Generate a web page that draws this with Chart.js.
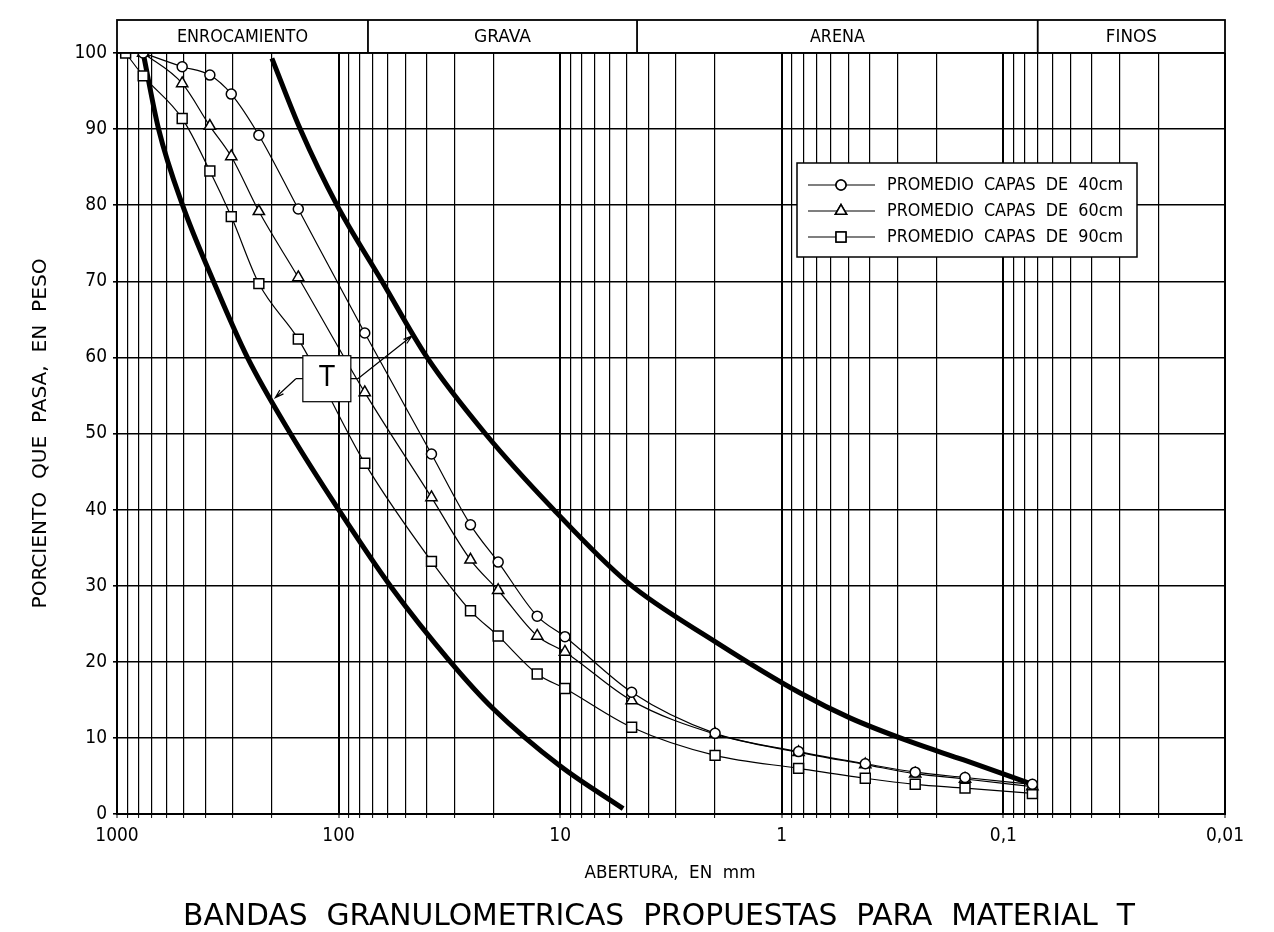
<!DOCTYPE html>
<html>
<head>
<meta charset="utf-8">
<title>Bandas granulometricas</title>
<script src="https://cdn.jsdelivr.net/npm/chart.js@4.4.1/dist/chart.umd.min.js"></script>
<style>
  html, body { margin: 0; padding: 0; background: #fff; }
  #wrap { width: 1274px; height: 932px; }
</style>
</head>
<body>
<div id="wrap"><canvas id="chart" width="1274" height="932"></canvas></div>
<script>
// sieve openings (mm) of the averaged gradings
const sieveSizes = [914, 762, 508, 381, 305, 229, 152, 76.2, 38.1, 25.4, 19.05, 12.7, 9.52, 4.76, 2.0, 0.84, 0.42, 0.25, 0.149, 0.074];
const layer40 = [null, 100, 98.2, 97.1, 94.6, 89.2, 79.5, 63.2, 47.3, 38.0, 33.1, 26.0, 23.3, 16.0, 10.6, 8.2, 6.6, 5.5, 4.8, 3.9];
const layer60 = [null, 100, 96.0, 90.4, 86.4, 79.2, 70.5, 55.4, 41.6, 33.4, 29.4, 23.4, 21.3, 14.9, 10.5, 8.1, 6.5, 5.3, 4.6, 3.6];
const layer90 = [100, 97.0, 91.4, 84.5, 78.5, 69.7, 62.4, 46.1, 33.2, 26.7, 23.4, 18.4, 16.5, 11.4, 7.7, 6.0, 4.7, 3.9, 3.4, 2.7];
const seriesLabels = ["PROMEDIO  CAPAS  DE  40cm", "PROMEDIO  CAPAS  DE  60cm", "PROMEDIO  CAPAS  DE  90cm"];
const seriesMarkers = ["circle", "triangle", "rect"];
const markerRadius = [5, 6.5, 7];

// limits of the band proposed for material T
const coarseSizes = [762, 649, 506, 367, 258, 165, 100, 58.5, 31.3, 20, 10, 5.2];
const coarseValues = [100, 90, 80, 70, 60, 50, 40, 30, 20, 13.8, 6.3, 0.7];
const fineSizes = [200, 149, 101.7, 63.7, 39.9, 21.8, 10.7, 5.0, 1.96, 0.826, 0.49, 0.263, 0.151, 0.074];
const fineValues = [99.3, 90, 80, 70, 60, 50, 40, 30.5, 22.5, 15.9, 12.6, 9.5, 7.1, 3.9];

// axis ticks
const xDecades = [1000, 100, 10, 1, 0.1, 0.01];
const xTickLabels = ["1000", "100", "10", "1", "0,1", "0,01"];
const yTickValues = [0, 10, 20, 30, 40, 50, 60, 70, 80, 90, 100];

// soil zones across the top
const zoneNames = ["ENROCAMIENTO", "GRAVA", "ARENA", "FINOS"];
const zoneLimits = [73.7, 4.5, 0.07];

const FONT = '"DejaVu Sans Condensed", "DejaVu Sans", sans-serif';

// grid lines at 1..9 of every decade
const xGrid = [];
xDecades.slice(1).forEach(d => {
  for (let m = 1; m < 10; m++) xGrid.push(+(d * m).toPrecision(3));
});
xGrid.push(1000);

function points(xs, ys) {
  return xs.map((x, i) => ({ x: x, y: ys[i] })).filter(p => p.y !== null);
}

function putText(ctx, text, x, y, size, opts) {
  opts = opts || {};
  ctx.save();
  ctx.font = size + "px " + FONT;
  ctx.textAlign = opts.align || "center";
  ctx.textBaseline = "middle";
  ctx.fillStyle = "#000";
  ctx.translate(x, y);
  if (opts.rotate) ctx.rotate(opts.rotate);
  if (opts.width) ctx.scale(opts.width / ctx.measureText(text).width, 1);
  ctx.fillText(text, 0, 0);
  ctx.restore();
}

function arrowTo(ctx, x0, y0, x1, y1) {
  const a = Math.atan2(y1 - y0, x1 - x0);
  ctx.beginPath();
  ctx.moveTo(x0, y0);
  ctx.lineTo(x1, y1);
  ctx.moveTo(x1 - 9 * Math.cos(a - 0.3), y1 - 9 * Math.sin(a - 0.3));
  ctx.lineTo(x1, y1);
  ctx.lineTo(x1 - 9 * Math.cos(a + 0.3), y1 - 9 * Math.sin(a + 0.3));
  ctx.stroke();
}

// label "T" with leaders to both band limits
const tLabel = { x: 113, y: 57.2 };
const tTargets = [{ x: 193, y: 54.7 }, { x: 46.7, y: 62.8 }];

const extras = {
  id: "extras",
  afterDatasetsDraw(chart) {
    const ctx = chart.ctx;
    const xs = chart.scales.x, ys = chart.scales.y;
    ctx.save();
    ctx.strokeStyle = "#000";
    ctx.lineWidth = 1.2;

    // T box
    const cx = xs.getPixelForValue(tLabel.x), cy = ys.getPixelForValue(tLabel.y);
    ctx.fillStyle = "#fff";
    ctx.fillRect(cx - 24, cy - 23, 48, 46);
    ctx.strokeRect(cx - 24, cy - 23, 48, 46);
    putText(ctx, "T", cx, cy, 28);
    const lx = xs.getPixelForValue(tTargets[0].x), ly = ys.getPixelForValue(tTargets[0].y);
    const rx = xs.getPixelForValue(tTargets[1].x), ry = ys.getPixelForValue(tTargets[1].y);
    ctx.beginPath();
    ctx.moveTo(cx - 24, cy); ctx.lineTo(cx - 31, cy);
    ctx.moveTo(cx + 24, cy); ctx.lineTo(cx + 31, cy);
    ctx.stroke();
    arrowTo(ctx, cx - 31, cy, lx, ly);
    arrowTo(ctx, cx + 31, cy, rx, ry);

    // legend
    const bx = 797, by = 163, bw = 340, bh = 94;
    ctx.fillStyle = "#fff";
    ctx.fillRect(bx, by, bw, bh);
    ctx.lineWidth = 1.5;
    ctx.strokeRect(bx, by, bw, bh);
    seriesLabels.forEach((label, i) => {
      const y = by + 22 + i * 26;
      ctx.lineWidth = 1.2;
      ctx.beginPath();
      ctx.moveTo(bx + 11, y);
      ctx.lineTo(bx + 78, y);
      ctx.stroke();
      ctx.lineWidth = 1.5;
      ctx.fillStyle = "#fff";
      Chart.helpers.drawPoint(ctx, { pointStyle: seriesMarkers[i], radius: markerRadius[i], rotation: 0, borderWidth: 1.5 }, bx + 44, y);
      ctx.fill();
      ctx.stroke();
      putText(ctx, label, bx + 90, y, 18, { align: "left", width: 236 });
    });
    ctx.restore();
  },
  afterDraw(chart) {
    const ctx = chart.ctx;
    const xs = chart.scales.x;
    const area = chart.chartArea;
    ctx.save();
    ctx.strokeStyle = "#000";
    ctx.lineWidth = 1.8;
    // zone band on top
    const top = 20;
    ctx.strokeRect(area.left, top, area.right - area.left, area.top - top);
    const edges = [area.left].concat(zoneLimits.map(v => xs.getPixelForValue(v)), [area.right]);
    ctx.beginPath();
    zoneLimits.forEach((v, i) => {
      ctx.moveTo(edges[i + 1], top);
      ctx.lineTo(edges[i + 1], area.top);
    });
    ctx.stroke();
    const zoneWidths = [131, 57, 55, 51];
    zoneNames.forEach((name, i) => {
      putText(ctx, name, (edges[i] + edges[i + 1]) / 2, (top + area.top) / 2 + 1, 18, { width: zoneWidths[i] });
    });

    // titles
    putText(ctx, "PORCIENTO  QUE  PASA,  EN  PESO", 41, (area.top + area.bottom) / 2, 20, { rotate: -Math.PI / 2, width: 350 });
    putText(ctx, "ABERTURA,  EN  mm", 670, 874, 17, { width: 171 });
    putText(ctx, "BANDAS  GRANULOMETRICAS  PROPUESTAS  PARA  MATERIAL  T", 659, 917, 30, { width: 952 });
    ctx.restore();
  }
};

const ctx = document.getElementById("chart").getContext("2d");

const seriesData = [layer40, layer60, layer90];
const datasets = seriesData.map((vals, i) => ({
  label: seriesLabels[i],
  data: points(sieveSizes, vals),
  showLine: true,
  borderColor: "#000",
  borderWidth: 1.2,
  cubicInterpolationMode: "monotone",
  pointStyle: seriesMarkers[i],
  pointRadius: markerRadius[i],
  pointBorderWidth: 1.5,
  pointBackgroundColor: "#fff",
  pointBorderColor: "#000"
}));
[[coarseSizes, coarseValues, "T grueso"], [fineSizes, fineValues, "T fino"]].forEach(b => {
  datasets.push({
    label: b[2],
    data: points(b[0], b[1]),
    showLine: true,
    borderColor: "#000",
    borderWidth: 5,
    cubicInterpolationMode: "monotone",
    pointRadius: 0
  });
});

const chart = new Chart(ctx, {
  type: "scatter",
  data: { datasets: datasets },
  plugins: [extras],
  options: {
    responsive: false,
    animation: false,
    layout: { padding: { top: 53, right: 49, left: 0, bottom: 0 } },
    plugins: {
      legend: { display: false },
      tooltip: { enabled: false },
      title: { display: false }
    },
    scales: {
      x: {
        type: "logarithmic",
        reverse: true,
        min: 0.01,
        max: 1000,
        afterFit: s => { s.height = 118; },
        afterBuildTicks: s => { s.ticks = xGrid.map(v => ({ value: v })); },
        border: { color: "#000", width: 2 },
        grid: {
          color: "#000",
          lineWidth: c => (c.tick && xDecades.includes(c.tick.value) ? 2 : 1.2),
          tickLength: 4,
          tickColor: "#000",
          tickWidth: 1
        },
        ticks: {
          autoSkip: false,
          maxRotation: 0,
          padding: 7,
          color: "#000",
          font: { family: FONT, size: 19 },
          callback: v => {
            const k = xDecades.findIndex(d => Math.abs(d - v) < d * 1e-6);
            return k >= 0 ? xTickLabels[k] : "";
          }
        }
      },
      y: {
        min: 0,
        max: 100,
        afterFit: s => { s.width = 117; },
        afterBuildTicks: s => { s.ticks = yTickValues.map(v => ({ value: v })); },
        border: { color: "#000", width: 2 },
        grid: {
          color: "#000",
          lineWidth: 1.6,
          tickLength: 4,
          tickColor: "#000"
        },
        ticks: {
          padding: 6,
          color: "#000",
          font: { family: FONT, size: 19 }
        }
      }
    }
  }
});
</script>
</body>
</html>
